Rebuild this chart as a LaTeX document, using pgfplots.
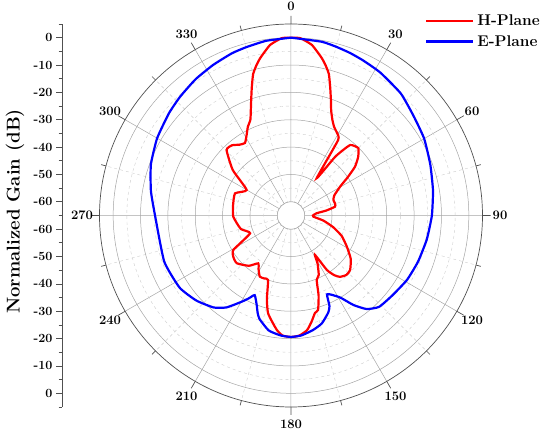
\documentclass[border=0pt]{standalone}
\usepackage{pgfplots}
\pgfplotsset{compat=1.18}
\usepackage{pgfplotstable}
\usepgfplotslibrary{polar}

\definecolor{gridmaj}{RGB}{165,165,165}
\definecolor{gridmin}{RGB}{205,205,205}
\definecolor{axdark}{RGB}{80,80,80}

% theta (deg, clockwise from top), gain (dB)
\pgfplotstableread{
t g
0 0
3 -0.1
7 -2.2
11 -6.3
13 -8.7
15 -11.5
17 -16
19 -20.2
21 -24
23.5 -27
26 -29
29 -30.4
32 -32.5
34.6 -48.4
37 -38
40 -31.4
45 -30.2
49 -32.5
52.7 -35.6
56 -40
59.6 -44.2
65 -47.5
69.9 -48.5
75 -48.3
78.7 -48.6
82 -52
85 -55.6
90 -57
93 -56.8
99 -53
105.3 -49.1
112 -45
119.4 -41.5
126 -38
132.7 -35.6
137 -35.3
141.4 -36.3
144 -38
146.6 -41.1
148.7 -48.1
151 -45
155 -41
158.3 -39.6
161 -34
164 -29.1
166.2 -28.3
169 -25.5
172 -22.7
176 -21
180 -20.6
184 -21
187 -22.8
190 -25.5
193.3 -28.4
196 -33
199.6 -40
203 -40
207 -39.9
211 -42
214.4 -43.8
220 -41
228.6 -38.6
234 -39
239.1 -40.4
246.5 -48.7
255 -46
268.8 -43.9
280 -43.5
291.6 -43
299.9 -46.3
308 -38
315.5 -31.4
320 -31.5
324 -33
327.6 -33.6
331 -31.5
334 -29
337 -27
339 -24
341 -20.3
343 -16
345 -11.5
347 -8.7
349 -6.3
353 -2.2
357 -0.1
360 0
}\hplane

\pgfplotstableread{
t g
0 0
10 -0.5
15 -1.15
20 -1.8
25 -2.5
32 -3.4
42 -5.0
51 -7.3
60 -8.8
70 -10.8
80 -12.3
90 -13.5
100 -14.6
110 -15.6
119 -16.5
128 -17.8
136 -18.6
141 -21
145 -25
149 -30
153 -32.5
155.5 -33.3
157 -29
159 -27
164 -24
169 -22.4
175 -21
180 -20.6
185 -21
191 -22.2
197 -25.5
199 -27.5
201 -30
204.5 -33
207 -31
210 -28.5
215 -24
220 -21.1
228 -18.5
237 -16.5
250 -15.7
270 -15.3
280 -13
290 -10.5
300 -8.5
310 -6.8
317 -5.6
325 -4.2
332.6 -3.05
340 -1.9
345.4 -1.3
352 -0.5
360 0
}\eplane

\begin{document}
\begin{tikzpicture}
\useasboundingbox (0,0) rectangle (550pt,433pt);
\begin{polaraxis}[
  at={(291pt,217.5pt)}, anchor=center,
  scale only axis, width=383pt, height=383pt,
  ymin=0, ymax=70,
  xtick={0,30,...,330},
  xticklabels={90,60,30,0,330,300,270,240,210,180,150,120},
  minor xtick={15,45,...,345},
  ytick={5,15,...,65},
  minor ytick={10,20,...,60},
  yticklabels={},
  ytick style={draw=none},
  y axis line style={draw=none},
  grid=both,
  major grid style={gridmaj, line width=0.5pt},
  minor grid style={gridmin, dashed, line width=0.4pt},
  x axis line style={axdark, line width=0.7pt},
  xtick style={axdark, line width=0.7pt},
  major tick length=8pt, minor tick length=5pt,
  tick align=inside,
  xticklabel style={font=\fontsize{13}{15}\selectfont\bfseries, anchor=center, shift={(\tick:17.5pt)}},
  clip=false,
]
\fill[white] (axis cs:0,0) circle[radius=13.68pt];
\draw[gridmaj, line width=0.5pt] (axis cs:0,0) circle[radius=13.68pt];
\addplot[red, line width=2.2pt, smooth, tension=0.3] table[x expr={90-\thisrow{t}}, y expr={\thisrow{g}+65}] {\hplane};
\addplot[blue, line width=2.2pt, smooth, tension=0.3] table[x expr={90-\thisrow{t}}, y expr={\thisrow{g}+65}] {\eplane};
\end{polaraxis}
\begin{axis}[
  at={(62pt,26pt)}, anchor=south west,
  scale only axis, width=1pt, height=383pt,
  xmin=0, xmax=1, ymin=-70, ymax=70,
  hide x axis, axis y line*=left,
  ytick={-65,-55,-45,-35,-25,-15,-5,5,15,25,35,45,55,65},
  yticklabels={0,-10,-20,-30,-40,-50,-60,-60,-50,-40,-30,-20,-10,0},
  minor ytick={-70,-60,...,70},
  tick align=outside,
  major tick length=6pt, minor tick length=3.5pt,
  y axis line style={axdark, line width=0.7pt},
  ytick style={axdark, line width=0.7pt},
  yticklabel style={font=\fontsize{12.5}{14}\selectfont\bfseries},
]
\end{axis}
\begin{axis}[
  at={(425pt,393pt)}, anchor=south west,
  scale only axis, width=1pt, height=25pt,
  hide axis, xmin=0, xmax=1, ymin=0, ymax=1,
  legend style={at={(0,1)}, anchor=north west, draw=none, fill=none,
    inner sep=0pt, row sep=8pt, font=\fontsize{15.5}{17}\selectfont\bfseries,
    nodes={inner xsep=3pt, inner ysep=0pt}},
  legend cell align=left,
  legend image code/.code={\draw[#1] (0pt,0pt) -- (47pt,0pt);},
]
\addlegendimage{red, line width=2.2pt}
\addlegendentry{H-Plane}
\addlegendimage{blue, line width=2.2pt}
\addlegendentry{E-Plane}
\end{axis}
\node[rotate=90, font=\fontsize{18.5}{20}\selectfont\bfseries] at (15pt,221.5pt) {Normalized Gain (dB)};
\end{tikzpicture}
\end{document}
